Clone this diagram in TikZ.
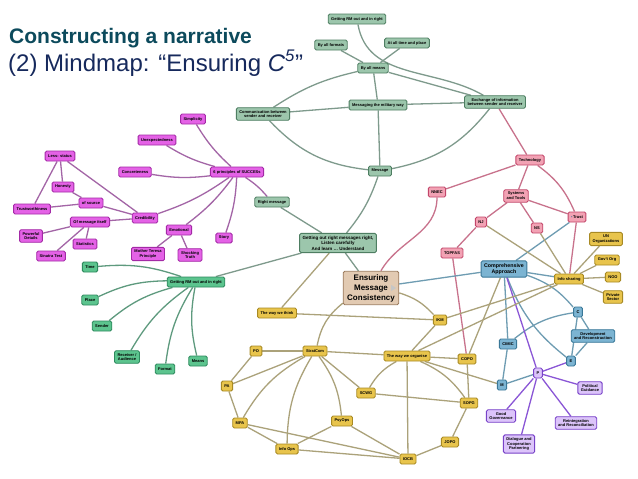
\documentclass[tikz,border=0pt]{standalone}
\usepackage{fontspec}
\setmainfont{Liberation Sans}
\usetikzlibrary{arrows.meta, positioning, backgrounds}
\definecolor{titleteal}{HTML}{0C4A5C}
\definecolor{titlenavy}{HTML}{16295C}
\definecolor{msgfill}{HTML}{9CC6AC}
\definecolor{msgdraw}{HTML}{4E7E62}
\definecolor{msgline}{HTML}{7E9A8C}
\definecolor{rmfill}{HTML}{5CC48E}
\definecolor{rmdraw}{HTML}{2E8A5E}
\definecolor{rmline}{HTML}{5E9A7E}
\definecolor{sucfill}{HTML}{E462E6}
\definecolor{sucdraw}{HTML}{A32AA6}
\definecolor{sucline}{HTML}{A365A6}
\definecolor{techfill}{HTML}{F2A2B4}
\definecolor{techdraw}{HTML}{C2466A}
\definecolor{techline}{HTML}{C8728C}
\definecolor{compfill}{HTML}{7CB4D2}
\definecolor{compdraw}{HTML}{3A7898}
\definecolor{compline}{HTML}{6E9CB2}
\definecolor{polfill}{HTML}{DCC4FA}
\definecolor{poldraw}{HTML}{7842C8}
\definecolor{polline}{HTML}{8A56D6}
\definecolor{orgfill}{HTML}{E8C44C}
\definecolor{orgdraw}{HTML}{A88A24}
\definecolor{orgline}{HTML}{ABA27A}
\definecolor{corefill}{HTML}{E2CAB2}
\definecolor{coredraw}{HTML}{9A7A5C}
\tikzstyle{block} = [rectangle, rounded corners=1.5pt, line width=0.9pt, align=center, inner xsep=3pt, inner ysep=2.4pt, minimum height=10pt, font=\fontsize{4}{4.8}\selectfont\bfseries]
\tikzstyle{msg} = [draw=msgdraw, block, fill=msgfill]
\tikzstyle{rm} = [draw=rmdraw, block, fill=rmfill]
\tikzstyle{succes} = [draw=sucdraw, block, fill=sucfill]
\tikzstyle{tech} = [draw=techdraw, block, fill=techfill]
\tikzstyle{comp} = [draw=compdraw, block, fill=compfill]
\tikzstyle{pol} = [draw=poldraw, block, fill=polfill]
\tikzstyle{org} = [draw=orgdraw, block, fill=orgfill]
\tikzstyle{core} = [draw=coredraw, block, fill=corefill, inner xsep=4pt, inner ysep=3pt, font=\fontsize{8}{10}\selectfont\bfseries]
\tikzstyle{msgpath} = [draw=msgline, line width=1.3pt]
\tikzstyle{rmpath} = [draw=rmline, line width=1.3pt]
\tikzstyle{sucpath} = [draw=sucline, line width=1.3pt]
\tikzstyle{techpath} = [draw=techline, line width=1.3pt]
\tikzstyle{comppath} = [draw=compline, line width=1.3pt]
\tikzstyle{polpath} = [draw=polline, line width=1.3pt]
\tikzstyle{orgpath} = [draw=orgline, line width=1.3pt]
\begin{document}
\begin{tikzpicture}[x=1pt, y=-1pt]
    \useasboundingbox (0,0) rectangle (638,479);

    % Title.
    \node (title) [anchor=base west, inner sep=0pt, text=titleteal, font=\fontsize{21}{24}\selectfont\bfseries] at (9,43) {Constructing a narrative};
    \node (subtitle) [anchor=base west, inner sep=0pt, text=titlenavy, font=\fontsize{24}{28}\selectfont] at (8,71) {(2) Mindmap: “Ensuring \textit{C\textsuperscript{5}}”};

    % Message branch.
    \node (rm top) [msg] at (357,19) {Getting RM out and in right};
    \node (formats) [msg] at (331,45) {By all formats};
    \node (time place) [msg] at (407,43) {At all time and place};
    \node (means) [msg] at (373,68) {By all means};
    \node (comm) [msg] at (263,114) {Communication between\\sender and receiver};
    \node (military) [msg] at (378,105) {Messaging the military way};
    \node (exchange) [msg] at (495,102) {Exchange of information\\between sender and receiver};
    \node (message) [msg] at (380,171) {Message};
    \node (right msg) [msg] at (272,202) {Right message};
    \node (getting) [msg, font=\fontsize{4.5}{5.6}\selectfont\bfseries] at (338,243) {Getting out right messages right,\\Listen carefully\\And learn \dots\ Understand};
    \node (esm) [core] at (371,288) {Ensuring\\Message\\Consistency};

    % SUCCESs branch.
    \node (six) [succes] at (237,172) {6 principles of SUCCESs};
    \node (simplicity) [succes] at (193,119) {Simplicity};
    \node (unexpected) [succes] at (157,140) {Unexpectedness};
    \node (concrete) [succes] at (135,172) {Concreteness};
    \node (less) [succes] at (60,156) {Less: status};
    \node (honesty) [succes] at (63,187) {Honesty};
    \node (source) [succes] at (91,203) {of source};
    \node (trustworthy) [succes] at (32,209) {Trustworthiness};
    \node (credibility) [succes] at (145,218) {Credibility};
    \node (itself) [succes] at (90,222) {Of message itself};
    \node (details) [succes] at (31,236) {Powerful\\Details};
    \node (statistics) [succes] at (85,244) {Statistics};
    \node (sinatra) [succes] at (51,256) {Sinatra Test};
    \node (emotional) [succes] at (179,230) {Emotional};
    \node (teresa) [succes] at (148,254) {Mother Teresa\\Principle};
    \node (shocking) [succes] at (190,255) {Shocking\\Truth};
    \node (story) [succes] at (224,238) {Story};

    % Getting RM out branch.
    \node (rm left) [rm] at (196,282) {Getting RM out and in right};
    \node (time) [rm] at (90,267) {Time};
    \node (place) [rm] at (90,300) {Place};
    \node (sender) [rm] at (102,326) {Sender};
    \node (receiver) [rm] at (127,357) {Receiver /\\Audience};
    \node (format) [rm] at (165,369) {Format};
    \node (means rm) [rm] at (198,361) {Means};

    % Technology branch.
    \node (technology) [tech] at (530,160) {Technology};
    \node (nnec) [tech] at (437,192) {NNEC};
    \node (systems) [tech] at (516,196) {Systems\\and Tools};
    \node (nj) [tech] at (481,222) {NJ};
    \node (ns) [tech] at (537,228) {NS};
    \node (trust) [tech] at (577,217) {\textcolor{compdraw}{\textbullet}\,Trust};
    \node (topfas) [tech] at (452,253) {TOPFAS};

    % Comprehensive approach branch.
    \node (ca) [comp, font=\fontsize{5.3}{6.4}\selectfont\bfseries] at (504,269) {Comprehensive\\Approach};
    \node (c) [comp] at (578,312) {C};
    \node (dev) [comp] at (593,336) {Development\\and Reconstruction};
    \node (cimic) [comp] at (508,344) {CIMIC};
    \node (e) [comp] at (571,361) {E};
    \node (m) [comp] at (502,385) {M};
    \node (p) [pol] at (538,373) {P};
    \node (political) [pol] at (590,388) {Political\\Guidance};
    \node (governance) [pol] at (501,416) {Good\\Governance};
    \node (reintegration) [pol] at (576,423) {Reintegration\\and Reconciliation};
    \node (dialogue) [pol] at (519,444) {Dialogue and\\Cooperation\\Partnering};

    % Organisation branch.
    \node (think) [org] at (277,313) {The way we think};
    \node (ikm) [org] at (440,320) {IKM};
    \node (po) [org] at (256,351) {PO};
    \node (stratcom) [org] at (315,351) {StratCom};
    \node (organise) [org] at (407,356) {The way we organise};
    \node (copo) [org] at (467,359) {COPO};
    \node (pa) [org] at (227,386) {PA};
    \node (scwg) [org] at (366,393) {SCWG};
    \node (sopg) [org] at (469,403) {SOPG};
    \node (mpa) [org] at (240,423) {MPA};
    \node (psyops) [org] at (342,421) {PsyOps};
    \node (info ops) [org] at (287,449) {Info Ops};
    \node (jopo) [org] at (450,442) {JOPO};
    \node (iocb) [org] at (408,459) {IOCB};
    \node (sharing) [org] at (569,279) {Info sharing};
    \node (un) [org] at (606,239) {UN\\Organizations};
    \node (govt) [org] at (607,260) {Gov't Org};
    \node (ngo) [org] at (613,277) {NGO};
    \node (private) [org] at (613,297) {Private\\Sector};

    \fill [gray!45] ([xshift=-8pt, yshift=-3pt]esm.east) -- ([xshift=-3pt]esm.east) -- ([xshift=-8pt, yshift=3pt]esm.east) -- cycle;

    % Connectors.
    \begin{scope}[on background layer]
        \fill [white] (0,0) rectangle (638,479);
        \draw [msgpath] (rm top) to [out=-80, in=150] (exchange);
        \foreach \a/\b in {formats/means, time place/means, means/military, means/exchange, comm/military, military/exchange, military/message, right msg/getting, getting/esm, getting/rm left} {%
            \draw [msgpath] (\a) -- (\b);
        }
        \draw [msgpath] (means) to [bend right=10] (comm);
        \draw [msgpath] (comm) to [bend right=20] (message);
        \draw [msgpath] (exchange) to [bend left=20] (message);
        \draw [msgpath] (message) to [bend left=10] (getting);

        \foreach \a in {simplicity, unexpected, concrete, credibility, emotional, story, right msg} {%
            \draw [sucpath] (six) to [bend left=8] (\a);
        }
        \foreach \a/\b in {less/trustworthy, less/honesty, less/credibility, honesty/source, trustworthy/source, source/credibility, credibility/itself, itself/details, itself/sinatra, itself/statistics, emotional/teresa, emotional/shocking} {%
            \draw [sucpath] (\a) -- (\b);
        }

        \foreach \a in {time, place, sender, receiver, format, means rm} {%
            \draw [rmpath] (rm left) to [bend right=12] (\a);
        }

        \foreach \a/\b in {exchange/technology, technology/nnec, technology/systems, systems/nj, systems/ns, systems/trust, nj/topfas, topfas/copo, trust/sharing} {%
            \draw [techpath] (\a) -- (\b);
        }
        \draw [techpath] (technology) to [bend left=15] (trust);
        \draw [techpath] (nnec) to [out=-90, in=60] (esm);

        \foreach \a/\b in {esm/ca, trust/ca, ca/sharing, ca/cimic, cimic/m, c/dev, c/e, dev/e, m/p} {%
            \draw [comppath] (\a) -- (\b);
        }
        \draw [comppath] (ca) to [bend left=15] (c);
        \draw [comppath] (ca) to [bend right=15] (e);
        \draw [comppath] (cimic) to [bend left=15] (c);

        \foreach \a/\b in {ca/p, e/p, p/political, p/governance, p/dialogue, p/reintegration} {%
            \draw [polpath] (\a) -- (\b);
        }

        \foreach \a/\b in {getting/think, think/ikm, ikm/organise, ikm/sharing, organise/sharing, copo/ca, organise/m, organise/copo, stratcom/organise, stratcom/po, stratcom/pa, stratcom/scwg, po/pa, pa/mpa, mpa/info ops, mpa/iocb, info ops/psyops, info ops/iocb, psyops/iocb, organise/iocb, scwg/sopg, copo/sopg, sopg/jopo, jopo/iocb, sharing/un, sharing/govt, sharing/ngo, sharing/private, nj/sharing, ns/sharing} {%
            \draw [orgpath] (\a) -- (\b);
        }
        \draw [orgpath] (esm) to [bend left=15] (ikm);
        \draw [orgpath] (esm) to [bend right=20] (stratcom);
        \draw [orgpath] (stratcom) to [bend right=15] (mpa);
        \draw [orgpath] (stratcom) to [bend right=15] (info ops);
        \draw [orgpath] (stratcom) to [bend left=15] (psyops);
        \draw [orgpath] (organise) to [bend right=15] (scwg);
        \draw [orgpath] (organise) to [bend left=15] (sopg);
    \end{scope}
\end{tikzpicture}
\end{document}
